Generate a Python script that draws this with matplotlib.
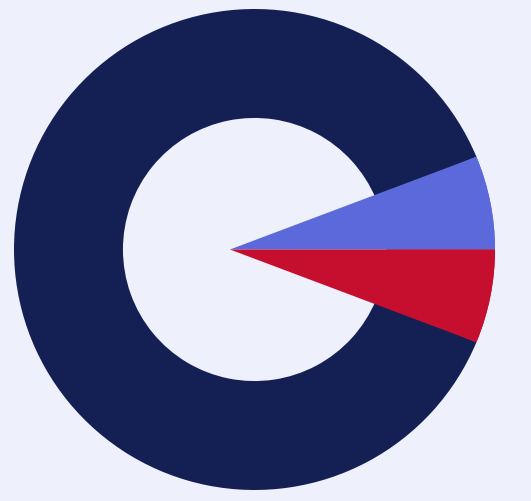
import numpy as np
from matplotlib import pyplot as plt
from matplotlib.patches import Wedge, Circle

# slice shares (percent), in drawing order starting at 3 o'clock, counter-clockwise
labels = ['Blue', 'Navy', 'Red']
values = [6.3, 87.4, 6.3]
colors = ['#5C69DB', '#142054', '#C60F2E']

BG = '#EEF0FC'
HOLE = 0.547        # inner radius of the ring
APEX_X = -0.102     # small slices are drawn from a point left of centre


def apex_angle(deg):
    # angle seen from the apex of the point on the unit circle at `deg`
    t = np.radians(deg)
    return np.degrees(np.arctan2(np.sin(t), np.cos(t) - APEX_X))


fig = plt.figure(figsize=(5.31, 5.01), dpi=100)
fig.patch.set_facecolor(BG)
ax = fig.add_axes([0, 0, 1, 1])
ax.set_facecolor(BG)

wedges, _ = ax.pie(values, colors=colors, startangle=0, counterclock=True,
                   radius=1.0, wedgeprops=dict(width=1 - HOLE, linewidth=0))

# blue and red run all the way in to the apex, clipped to the outer circle
clip = Circle((0, 0), 1.0, transform=ax.transData)
for w, c in zip(wedges, colors):
    if c == colors[1]:
        continue
    t1, t2 = w.theta1, w.theta2
    a1, a2 = apex_angle(t1), apex_angle(t2)
    if a2 < a1:
        a2 += 360
    big = Wedge((APEX_X, 0), 1.3, a1, a2, facecolor=c, linewidth=0)
    ax.add_patch(big)
    big.set_clip_path(clip)

ax.set_aspect('auto')
ax.set_xlim(-254.5 / 240.5, (531 - 254.5) / 240.5)
ax.set_ylim(-251.5 / 240.5, 249.5 / 240.5)
ax.axis('off')

plt.savefig('out.png', dpi=100, facecolor=BG)
